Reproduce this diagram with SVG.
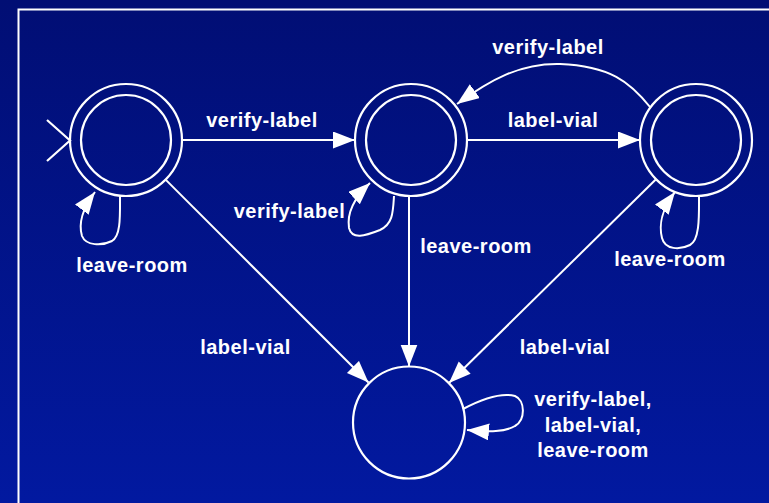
<svg xmlns="http://www.w3.org/2000/svg" width="769" height="503" viewBox="0 0 769 503">
  <defs>
    <linearGradient id="bg" x1="0" y1="0" x2="0" y2="1">
      <stop offset="0" stop-color="#010e74"/>
      <stop offset="1" stop-color="#0219a0"/>
    </linearGradient>
    <marker id="arrow" markerUnits="userSpaceOnUse" markerWidth="23" markerHeight="18" refX="22" refY="8.5" orient="auto" viewBox="0 0 23 18">
      <path d="M0,0 L22,8.5 L0,17 z" fill="#ffffff"/>
    </marker>
    <style>
      .st { fill: none; stroke: #ffffff; stroke-width: 2.2; }
      .ed { fill: none; stroke: #ffffff; stroke-width: 2; marker-end: url(#arrow); }
      .lb { font-family: "Liberation Sans", Arial, sans-serif; font-weight: bold; font-size: 20px; letter-spacing: 0.5px; fill: #ffffff; text-anchor: middle; }
    </style>
  </defs>

  <rect x="0" y="0" width="769" height="503" fill="url(#bg)"/>
  <path d="M18.5,503 V9.5 H769" fill="none" stroke="#ffffff" stroke-width="2"/>

  <g id="node-s0">
    <circle class="st" cx="126" cy="140" r="56"/>
    <circle class="st" cx="126" cy="140" r="45"/>
    <path class="st" d="M47,120 L70,140.5 L47,161"/>
  </g>
  <g id="node-s1">
    <circle class="st" cx="411" cy="140" r="56"/>
    <circle class="st" cx="411" cy="140" r="45"/>
  </g>
  <g id="node-s2">
    <circle class="st" cx="696" cy="140" r="56"/>
    <circle class="st" cx="696" cy="140" r="45"/>
  </g>
  <g id="node-trap">
    <circle class="st" cx="409" cy="422.5" r="56"/>
  </g>

  <g id="connectors">
    <path class="ed" d="M182,140 L355,140"/>
    <path class="ed" d="M467,140 L640,140"/>
    <path class="ed" d="M650,107 C630,82 610,66 560,64 C520,63 490,80 457,104"/>
    <path class="ed" d="M165.6,179.6 L368.5,382.5"/>
    <path class="ed" d="M409,196 L409,366.5"/>
    <path class="ed" d="M656,179.3 L449,383"/>
    <path class="ed" d="M120,196 C120,215 121,236 112,241 C102,246 86,246 82,236 C79,226 80,212 95,192"/>
    <path class="ed" d="M394,196 C393,212 393,224 380,230 C365,236 352,240 349,228 C347,215 352,200 370,183"/>
    <path class="ed" d="M699,196 C699,215 700,240 690,245 C680,250 665,250 662,238 C659,226 660,212 675,192"/>
    <path class="ed" d="M463,409 C480,400 500,392 515,396 C525,400 526,420 515,426 C505,432 490,432 467,430"/>
  </g>

  <g id="labels">
    <text class="lb" x="262" y="127">verify-label</text>
    <text class="lb" x="553" y="127">label-vial</text>
    <text class="lb" x="548" y="54">verify-label</text>
    <text class="lb" x="289.5" y="218">verify-label</text>
    <text class="lb" x="132" y="272">leave-room</text>
    <text class="lb" x="476" y="253">leave-room</text>
    <text class="lb" x="670" y="266">leave-room</text>
    <text class="lb" x="245.5" y="354">label-vial</text>
    <text class="lb" x="565" y="354">label-vial</text>
    <text class="lb" x="593" y="406">verify-label,</text>
    <text class="lb" x="593" y="432">label-vial,</text>
    <text class="lb" x="593" y="457">leave-room</text>
  </g>
</svg>
